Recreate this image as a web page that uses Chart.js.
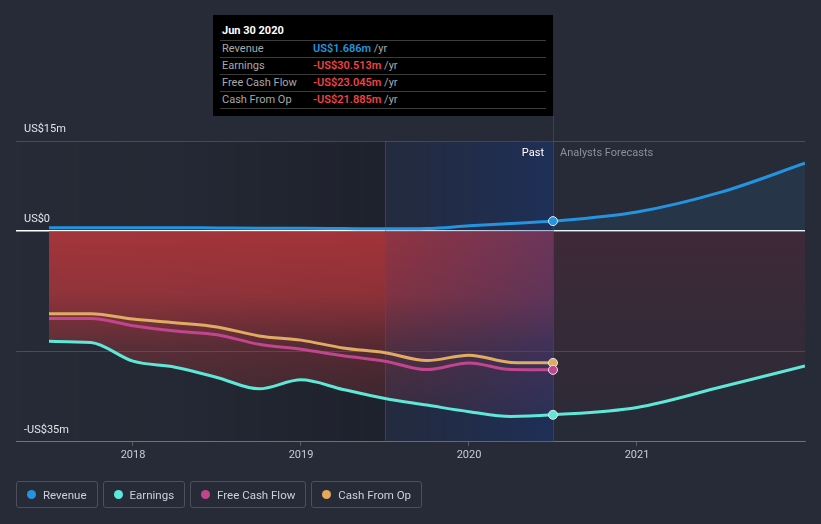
<!DOCTYPE html>
<html>
<head>
<meta charset="utf-8">
<script src="https://cdn.jsdelivr.net/npm/chart.js@4.4.1/dist/chart.umd.min.js"></script>
<style>
body { margin: 0; background: #272b37; font-family: Roboto, "Open Sans", sans-serif; }
#wrap { position: relative; width: 821px; height: 524px; overflow: hidden; }
#chart { position: absolute; left: 0; top: 0; }
.tip { position: absolute; left: 213px; top: 15px; width: 340px; height: 101px; background: #000; }
.tip .title { position: absolute; left: 9px; top: 9px; font-size: 11px; font-weight: bold; color: #fff; line-height: 14px; }
.tip .row { position: absolute; left: 7px; width: 326px; height: 17px; border-top: 1px solid #3c3c3c; font-size: 11px; line-height: 16px; color: #a8a8a8; }
.tip .row .lab { position: absolute; left: 2px; }
.tip .row .val { position: absolute; left: 93px; }
.tip .row b { font-weight: 600; }
.tip .last { position: absolute; left: 7px; width: 326px; top: 93px; border-top: 1px solid #3c3c3c; }
.past { position: absolute; right: 277px; top: 146px; font-size: 11px; color: #fff; }
.fcst { position: absolute; left: 560px; top: 146px; font-size: 11px; color: #8b909a; }
.legend { position: absolute; left: 16px; top: 481px; display: flex; gap: 5px; }
.legend div { height: 25px; border: 1px solid #4b505c; border-radius: 3px; padding: 0 10px 0 10px; display: flex; align-items: center; font-size: 11.5px; color: #cdd0d6; }
.legend span { width: 9px; height: 9px; border-radius: 50%; margin-right: 7px; display: inline-block; }
</style>
</head>
<body>
<div id="wrap">
  <canvas id="chart" width="821" height="524"></canvas>
  <div class="tip">
    <div class="title">Jun 30 2020</div>
    <div class="row" style="top:25px"><span class="lab">Revenue</span><span class="val"><b style="color:#2394df">US$1.686m</b> /yr</span></div>
    <div class="row" style="top:42px"><span class="lab">Earnings</span><span class="val"><b style="color:#ee4444">-US$30.513m</b> /yr</span></div>
    <div class="row" style="top:59px"><span class="lab">Free Cash Flow</span><span class="val"><b style="color:#ee4444">-US$23.045m</b> /yr</span></div>
    <div class="row" style="top:76px"><span class="lab">Cash From Op</span><span class="val"><b style="color:#ee4444">-US$21.885m</b> /yr</span></div>
    <div class="last"></div>
  </div>
  <div class="past">Past</div>
  <div class="fcst">Analysts Forecasts</div>
  <div class="legend">
    <div><span style="background:#2394df"></span>Revenue</div>
    <div><span style="background:#5ee8d8"></span>Earnings</div>
    <div><span style="background:#c2468f"></span>Free Cash Flow</div>
    <div><span style="background:#e6a95a"></span>Cash From Op</div>
  </div>
</div>
<script>
// values in US$ millions, x in decimal years
const pastYears = [2017.5, 2017.75, 2018.0, 2018.25, 2018.5, 2018.75, 2019.0, 2019.25, 2019.5, 2019.75, 2020.0, 2020.25, 2020.5];
const revenuePast = [0.6, 0.6, 0.6, 0.6, 0.55, 0.5, 0.5, 0.45, 0.4, 0.45, 0.9, 1.3, 1.686];
const earningsPast = [-18.3, -18.5, -21.6, -22.6, -24.3, -26.2, -24.7, -26.3, -27.8, -28.9, -30.0, -30.8, -30.513];
const fcfPast = [-14.5, -14.5, -15.7, -16.6, -17.2, -18.8, -19.6, -20.7, -21.6, -23.0, -21.9, -23.0, -23.045];
const cfoPast = [-13.7, -13.7, -14.6, -15.2, -15.9, -17.4, -18.1, -19.4, -20.2, -21.5, -20.6, -21.8, -21.885];

const forecastYears = [2020.5, 2021.0, 2021.5, 2022.0];
const revenueForecast = [1.686, 3.2, 6.5, 11.3];
const earningsForecast = [-30.513, -29.3, -25.9, -22.4];

const xTickValues = [2018, 2019, 2020, 2021];
const yTickValues = [15, 0, -20, -35];
const yTickLabels = ['US$15m', 'US$0', '', '-US$35m'];

const PAST_END = 2020.5;
const X_MIN = 2017.3036, X_MAX = 2022.0;

const toPoints = (xs, ys) => xs.map((x, i) => ({ x: x, y: ys[i] }));
const joined = (a, b) => a.concat(b.slice(1));

// gradients rebuilt after every layout
const fills = {};

const isFuture = c => c.p0.parsed.x >= PAST_END;
const dotRadius = c => (c.raw && c.raw.x === PAST_END ? 4.5 : 0);

const shadePlugin = {
  id: 'shade',
  afterLayout(chart) {
    const ctx = chart.ctx, a = chart.chartArea, y = chart.scales.y;
    const z = y.getPixelForValue(0);
    let g = ctx.createLinearGradient(0, z, 0, a.bottom);
    g.addColorStop(0, 'rgba(185,55,60,0.85)');
    g.addColorStop(0.3, 'rgba(185,55,60,0.72)');
    g.addColorStop(0.55, 'rgba(185,55,60,0.35)');
    g.addColorStop(1, 'rgba(185,55,60,0.08)');
    fills.pastRed = g;
    g = ctx.createLinearGradient(0, z, 0, a.bottom);
    g.addColorStop(0, 'rgba(110,40,60,0.34)');
    g.addColorStop(0.5, 'rgba(110,40,60,0.2)');
    g.addColorStop(1, 'rgba(110,40,60,0.05)');
    fills.futureRed = g;
  },
  beforeDraw(chart) {
    const ctx = chart.ctx, a = chart.chartArea, x = chart.scales.x;
    const bandL = x.getPixelForValue(2019.5);
    ctx.save();
    let g = ctx.createLinearGradient(a.left, 0, bandL, 0);
    g.addColorStop(0, 'rgba(0,0,0,0)');
    g.addColorStop(0.4, 'rgba(5,8,15,0.05)');
    g.addColorStop(1, 'rgba(5,8,15,0.25)');
    ctx.fillStyle = g;
    ctx.fillRect(a.left, a.top, bandL - a.left, a.bottom - a.top);
    ctx.restore();
  },
  beforeDatasetsDraw(chart) {
    const ctx = chart.ctx, a = chart.chartArea, x = chart.scales.x;
    const bandL = x.getPixelForValue(2019.5), bandR = x.getPixelForValue(PAST_END);
    ctx.save();
    const g = ctx.createLinearGradient(bandL, 0, bandR, 0);
    g.addColorStop(0, 'rgba(15,45,120,0.12)');
    g.addColorStop(1, 'rgba(18,55,140,0.38)');
    ctx.fillStyle = g;
    ctx.fillRect(bandL, a.top, bandR - bandL, a.bottom - a.top);
    ctx.strokeStyle = 'rgba(40,90,170,0.55)';
    ctx.lineWidth = 1;
    ctx.beginPath();
    ctx.moveTo(Math.round(bandL) + 0.5, a.top);
    ctx.lineTo(Math.round(bandL) + 0.5, a.bottom);
    ctx.moveTo(Math.round(bandR) + 0.5, 116);
    ctx.lineTo(Math.round(bandR) + 0.5, a.bottom);
    ctx.stroke();
    ctx.restore();
  }
};

const baseLine = {
  borderWidth: 3,
  cubicInterpolationMode: 'monotone',
  pointRadius: dotRadius,
  pointHoverRadius: dotRadius,
  pointBorderColor: '#e6e6e6',
  pointBorderWidth: 1
};

const chart = new Chart(document.getElementById('chart'), {
  type: 'line',
  data: {
    datasets: [
      Object.assign({}, baseLine, {
        label: 'Revenue',
        data: toPoints(joined(pastYears, forecastYears), joined(revenuePast, revenueForecast)),
        borderColor: '#2394df',
        pointBackgroundColor: '#2394df',
        backgroundColor: 'rgba(0,0,0,0)',
        fill: 'origin',
        segment: { backgroundColor: c => (isFuture(c) ? 'rgba(35,148,223,0.1)' : 'rgba(0,0,0,0)') }
      }),
      Object.assign({}, baseLine, {
        label: 'Earnings',
        data: toPoints(joined(pastYears, forecastYears), joined(earningsPast, earningsForecast)),
        borderColor: '#5ee8d8',
        pointBackgroundColor: '#5ee8d8',
        backgroundColor: () => fills.pastRed || 'rgba(185,55,60,0.6)',
        fill: 'origin',
        segment: { backgroundColor: c => (isFuture(c) ? (fills.futureRed || 'rgba(110,40,60,0.3)') : (fills.pastRed || 'rgba(185,55,60,0.6)')) }
      }),
      Object.assign({}, baseLine, {
        label: 'Free Cash Flow',
        data: toPoints(pastYears, fcfPast),
        borderColor: '#c2468f',
        pointBackgroundColor: '#c2468f',
        fill: false
      }),
      Object.assign({}, baseLine, {
        label: 'Cash From Op',
        data: toPoints(pastYears, cfoPast),
        borderColor: '#e0ac64',
        pointBackgroundColor: '#e0ac64',
        fill: false
      })
    ]
  },
  options: {
    responsive: false,
    animation: false,
    events: [],
    layout: { padding: { left: 0, right: 16, top: 141, bottom: 59 } },
    plugins: {
      legend: { display: false },
      tooltip: { enabled: false },
      filler: { drawTime: 'beforeDatasetsDraw' }
    },
    scales: {
      x: {
        type: 'linear',
        min: X_MIN,
        max: X_MAX,
        afterBuildTicks: s => { s.ticks = xTickValues.map(v => ({ value: v })); },
        ticks: { color: '#c8cbd2', font: { family: 'Roboto', size: 11 }, padding: 3, callback: v => String(v) },
        grid: { drawOnChartArea: false, drawTicks: true, tickLength: 4, color: 'rgba(255,255,255,0.25)' },
        border: { display: true, color: 'rgba(255,255,255,0.22)' }
      },
      y: {
        min: -35,
        max: 15,
        afterBuildTicks: s => { s.ticks = yTickValues.map(v => ({ value: v })); },
        ticks: {
          mirror: true,
          padding: 8,
          labelOffset: -12,
          color: '#e2e4e8',
          font: { family: 'Roboto', size: 11 },
          callback: v => yTickLabels[yTickValues.indexOf(v)]
        },
        grid: {
          drawTicks: false,
          color: c => (c.tick && c.tick.value === 0 ? '#ffffff' : 'rgba(255,255,255,0.16)'),
          lineWidth: c => (c.tick && c.tick.value === 0 ? 1.5 : 1)
        },
        border: { display: false }
      }
    }
  },
  plugins: [shadePlugin]
});
</script>
</body>
</html>
